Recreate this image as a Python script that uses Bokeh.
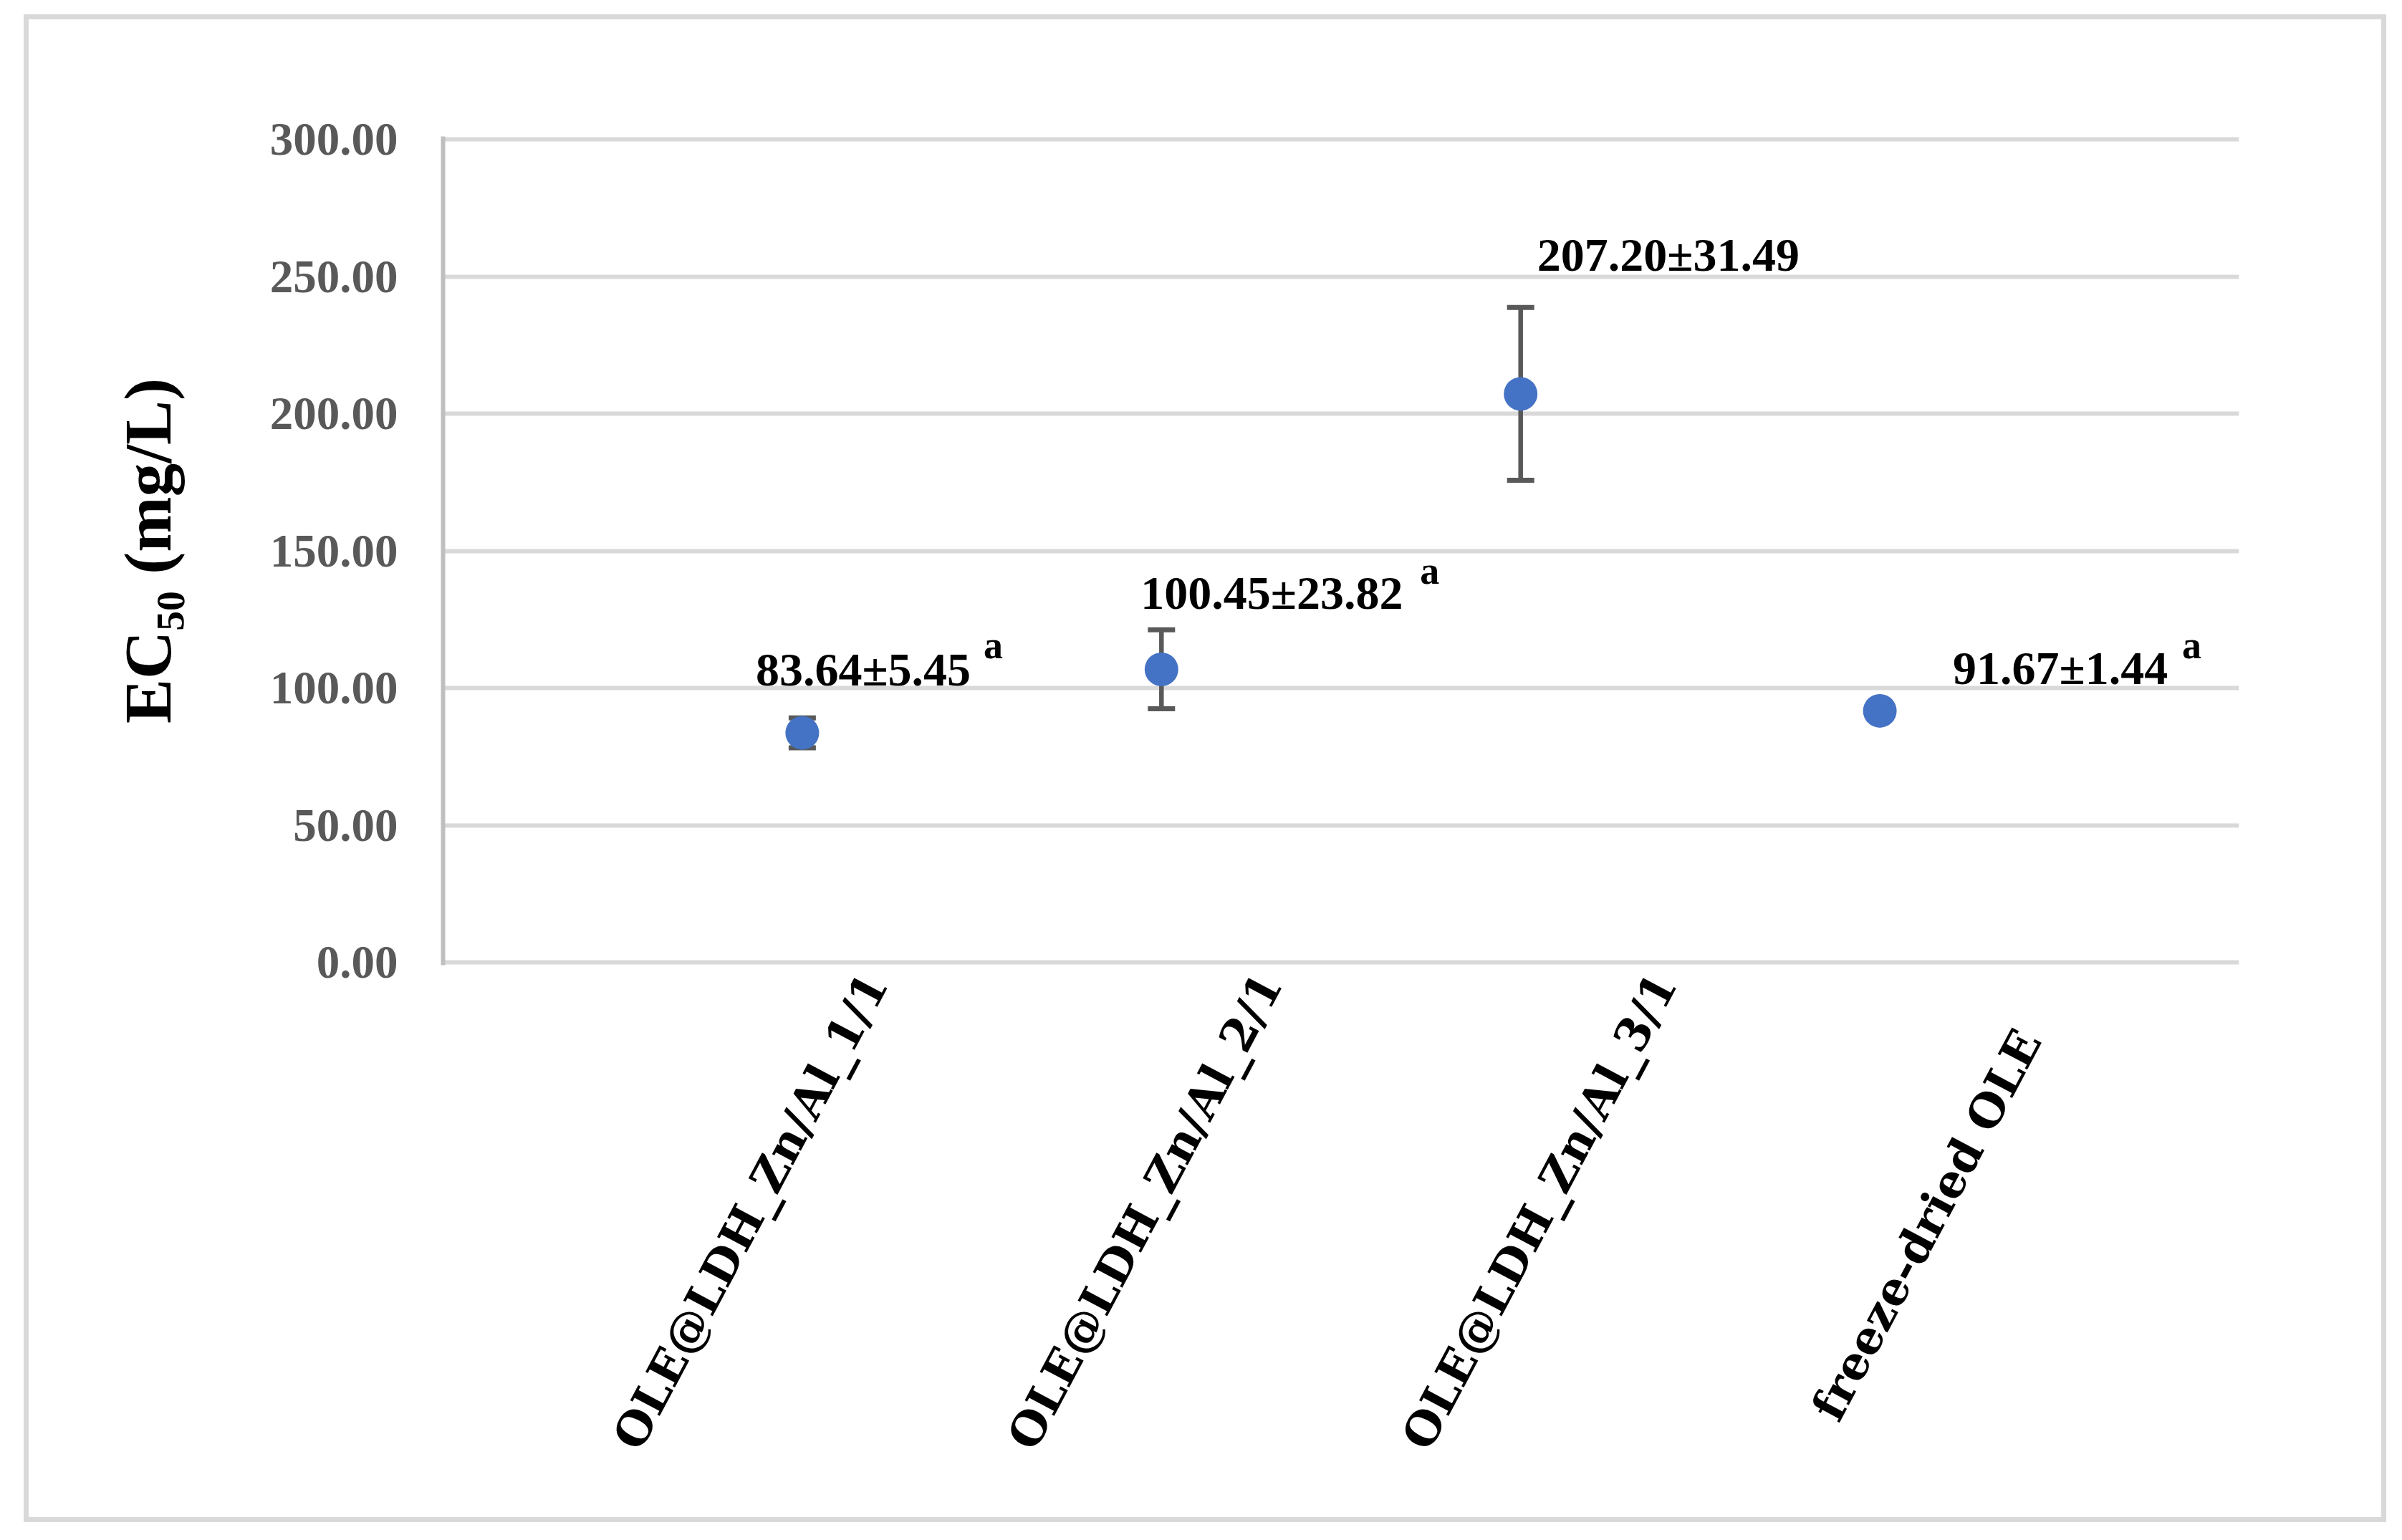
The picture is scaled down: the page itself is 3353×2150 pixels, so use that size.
import math
from bokeh.plotting import figure
from bokeh.models import (Range1d, FixedTicker, PrintfTickFormatter, ColumnDataSource,
                          Whisker, TeeHead, Label, LinearAxis)
from bokeh.embed import file_html
from bokeh.resources import INLINE

# ---------------- data ----------------
categories = ["OLE@LDH_Zn/Al_1/1", "OLE@LDH_Zn/Al_2/1", "OLE@LDH_Zn/Al_3/1", "freeze-dried OLE"]
ec50_mean = [83.64, 106.8, 207.20, 91.67]      # plotted point positions
ec50_err = [5.45, 14.4, 31.49, 1.44]           # plotted error bar half-lengths
value_labels = ["83.64\u00b15.45", "100.45\u00b123.82", "207.20\u00b131.49", "91.67\u00b11.44"]
letter_labels = ["a", "a", "", "a"]
y_ticks = [0, 50, 100, 150, 200, 250, 300]
y_title = "EC\u2085\u2080 (mg/L)"

# ---------------- layout / style ----------------
W, H = 3298, 2105
FL, FR, FT0, FB0 = 578, 3085, 167, 1316   # frame edges for values 300 / 0 (canvas px)
PAD = 4                                    # px of padding so 0 and 300 grid lines are drawn
unit = (FB0 - FT0) / 300.0
CAT_RANGE = (-0.0954, 4.4577)              # range of the category-label axis (label placement)
GRID = "#D9D9D9"
AXIS = "#BFBFBF"
TICK_TXT = "#595959"
BLUE = "#4472C4"
BAR = "#595959"
SERIF = "Liberation Serif"
CAT_FONT = "DejaVu Serif"

val_dx = [-65, -29, 23, 102]
val_dy = [89, 107, 194, 60]
let_dx = [253, 361, 0, 422]
let_dy = [122, 137, 0, 91]
cat_pad = ["", "", "", "\u00a0\u00a0\u00a0\u00a0"]

xpos = [i + 1 for i in range(len(categories))]
upper = [m + e for m, e in zip(ec50_mean, ec50_err)]
lower = [m - e for m, e in zip(ec50_mean, ec50_err)]
src = ColumnDataSource(dict(x=xpos, mean=ec50_mean, upper=upper, lower=lower))

p = figure(width=W, height=H, x_range=Range1d(0, len(categories) + 1),
           y_range=Range1d(-PAD / unit, 300 + PAD / unit),
           output_backend="svg", toolbar_location=None, x_axis_location=None,
           min_border_left=FL, min_border_right=W - FR,
           min_border_top=FT0 - PAD, min_border_bottom=H - FB0 - PAD)
p.margin = (20, 0, 0, 33)
p.styles = {"border": "7px solid #D9D9D9"}
p.background_fill_color = "white"
p.border_fill_color = "white"
p.outline_line_color = None

# category label axis
p.extra_x_ranges = {"cat": Range1d(*CAT_RANGE)}
xa = LinearAxis(x_range_name="cat")
xa.ticker = FixedTicker(ticks=xpos)
xa.major_label_overrides = {x: c + pad for x, c, pad in zip(xpos, categories, cat_pad)}
xa.major_label_orientation = math.radians(62)
xa.axis_line_color = None
xa.major_tick_line_color = None
xa.minor_tick_line_color = None
xa.major_label_text_font = CAT_FONT
xa.major_label_text_font_style = "bold"
xa.major_label_text_font_size = "64px"
xa.major_label_text_color = "black"
xa.major_label_standoff = 10
p.add_layout(xa, "below")

p.xgrid.visible = False
p.ygrid.grid_line_color = GRID
p.ygrid.grid_line_width = 6
p.ygrid.ticker = FixedTicker(ticks=y_ticks)

ya = p.yaxis[0]
ya.ticker = FixedTicker(ticks=y_ticks)
ya.formatter = PrintfTickFormatter(format="%.2f")
ya.major_tick_line_color = None
ya.minor_tick_line_color = None
ya.axis_line_color = AXIS
ya.axis_line_width = 6
ya.major_label_text_font = SERIF
ya.major_label_text_font_style = "bold"
ya.major_label_text_font_size = "65px"
ya.major_label_text_color = TICK_TXT
ya.major_label_standoff = 57
ya.axis_label = y_title
ya.axis_label_text_font = SERIF
ya.axis_label_text_font_style = "bold"
ya.axis_label_text_font_size = "93px"
ya.axis_label_text_color = "black"
ya.axis_label_standoff = 116

# error bars
w = Whisker(base="x", upper="upper", lower="lower", source=src, dimension="height",
            line_color=BAR, line_width=6.5, level="underlay",
            upper_head=TeeHead(size=38, line_color=BAR, line_width=7),
            lower_head=TeeHead(size=38, line_color=BAR, line_width=7))
p.add_layout(w)

# points
p.scatter("x", "mean", source=src, size=47, fill_color=BLUE, line_color=None)

# value labels
for i in range(len(categories)):
    p.add_layout(Label(x=xpos[i], y=ec50_mean[i], x_offset=val_dx[i], y_offset=val_dy[i],
                       text=value_labels[i], text_font=SERIF, text_font_style="bold",
                       text_font_size="66px", text_color="black",
                       text_align="left", text_baseline="alphabetic"))
    if letter_labels[i]:
        p.add_layout(Label(x=xpos[i], y=ec50_mean[i], x_offset=let_dx[i], y_offset=let_dy[i],
                           text=letter_labels[i], text_font=SERIF, text_font_style="bold",
                           text_font_size="54px", text_color="black",
                           text_align="left", text_baseline="alphabetic"))

open("out.html", "w").write(file_html(p, INLINE))
